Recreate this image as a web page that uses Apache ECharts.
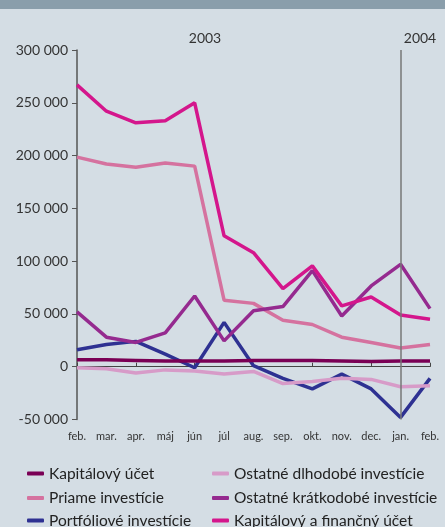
<!DOCTYPE html>
<html><head><meta charset="utf-8">
<script src="https://cdn.jsdelivr.net/npm/echarts@6/dist/echarts.min.js"></script>
<style>html,body{margin:0;padding:0;background:#d4dde4}#c{width:445px;height:527px}</style>
</head><body><div id="c"></div>
<script>
const months = ['feb.','mar.','apr.','máj','jún','júl','aug.','sep.','okt.','nov.','dec.','jan.','feb.'];
const yearLabels = ['2003','2004'];
const kapitalovyUcet = [6500,6500,6000,5500,5500,5500,6000,6000,6000,5500,5000,5500,5500];
const priameInv = [198500,192000,189000,193000,190000,63000,60000,44000,40000,28000,23000,17700,21000];
const portfolioveInv = [16000,21000,24000,12000,-1000,42000,1000,-11000,-21000,-7000,-21000,-48000,-11000];
const ostDlhodobe = [-1000,-2000,-6000,-3000,-4000,-7000,-4500,-16000,-14000,-11000,-12000,-19000,-18000];
const ostKratkodobe = [52000,28000,23000,32000,67000,24500,53000,57000,91000,48000,76500,97000,55000];
const kapAFinUcet = [267000,242000,231000,233000,250000,124000,108000,74000,95500,57600,66000,49000,45000];

const names = ['Kapitálový účet','Priame investície','Portfóliové investície','Ostatné dlhodobé investície','Ostatné krátkodobé investície','Kapitálový a finančný účet'];
const colors = ['#7a0055','#d5729f','#2e3192','#d79bc8','#952a8f','#d4168c'];
const data = [kapitalovyUcet, priameInv, portfolioveInv, ostDlhodobe, ostKratkodobe, kapAFinUcet];
const font = 'Lato, "Open Sans", sans-serif';

const series = data.map((d,i)=>({
  name: names[i], type:'line', data:d, xAxisIndex:0, symbol:'none',
  lineStyle:{color:colors[i], width:3.5}, itemStyle:{color:colors[i]}, z: 3
}));
series[0].markLine = {silent:true, symbol:'none', label:{show:false},
  lineStyle:{color:'#777', width:1.5, type:'solid'}, data:[{xAxis:11}]};
series[0].z = 4;

const rowCenters = [473.5, 498, 520.5];
const legends = names.map((n,i)=>({
  data:[n], orient:'horizontal', left: i<3 ? 27 : 212, top: rowCenters[i%3]-9,
  itemWidth:17, itemHeight:4, icon:'roundRect', padding:0,
  textStyle:{color:'#222', fontSize:15.5, fontFamily:font, lineHeight:18, padding:[0,0,0,0]}
}));

const chart = echarts.init(document.getElementById('c'));
chart.setOption({
  backgroundColor:'#d4dde4',
  animation:false,
  color: colors,
  grid:{left:77, right:15, top:50, bottom:107.5},
  xAxis:[{
    type:'category', data:months, boundaryGap:false, position:'bottom',
    axisLine:{show:false, onZero:false}, axisTick:{show:false},
    axisLabel:{color:'#333', fontSize:11, fontFamily:font, margin:11, interval:0}
  },{
    type:'category', data:months, boundaryGap:false,
    axisLine:{show:true, onZero:true, lineStyle:{color:'#444', width:1.2}},
    axisTick:{show:true, length:4, inside:false, lineStyle:{color:'#444'}},
    axisLabel:{show:false}
  }],
  yAxis:{type:'value', min:-50000, max:300000, interval:50000,
    splitLine:{show:false},
    axisLine:{show:true, lineStyle:{color:'#555', width:1.5}},
    axisTick:{show:true, length:5, lineStyle:{color:'#555'}},
    axisLabel:{color:'#333', fontSize:14, fontFamily:font, margin:9,
      formatter:v=>String(v).replace(/\B(?=(\d{3})+(?!\d))/g,' ')}
  },
  legend: legends,
  graphic:[
    {type:'rect', shape:{x:0,y:0,width:445,height:9}, style:{fill:'#8a9eab'}},
    {type:'text', style:{text:yearLabels[0], x:205, y:38, fill:'#333', font:'14px '+font, textAlign:'center', textVerticalAlign:'middle'}},
    {type:'text', style:{text:yearLabels[1], x:420, y:38, fill:'#333', font:'14px '+font, textAlign:'center', textVerticalAlign:'middle'}}
  ],
  series: series
});
</script></body></html>
